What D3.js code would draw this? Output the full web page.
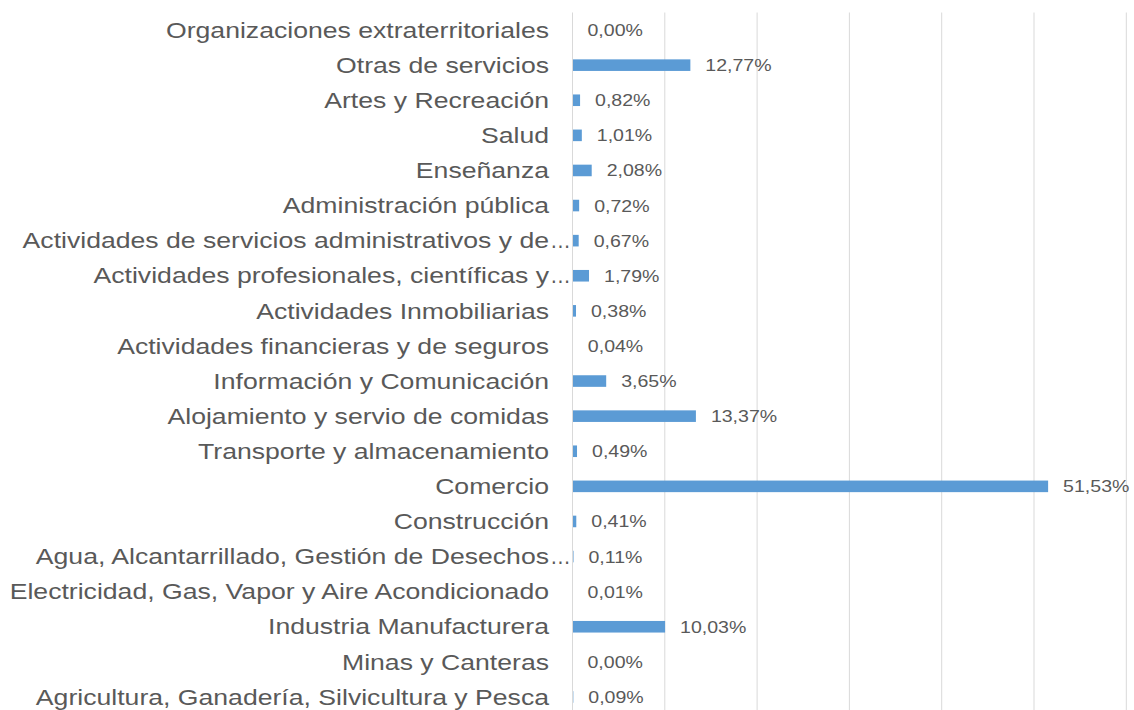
<!DOCTYPE html>
<html>
<head>
<meta charset="utf-8">
<script src="https://cdn.jsdelivr.net/npm/d3@7"></script>
<style>
  html, body { margin: 0; padding: 0; background: #fff; }
  svg { display: block; }
</style>
</head>
<body>
<div id="chart"></div>
<script>
  // === DATA (top to bottom, as shown) ===
  const categories = [
    "Organizaciones extraterritoriales",
    "Otras de servicios",
    "Artes y Recreación",
    "Salud",
    "Enseñanza",
    "Administración pública",
    "Actividades de servicios administrativos y de…",
    "Actividades profesionales, científicas y…",
    "Actividades Inmobiliarias",
    "Actividades financieras y de seguros",
    "Información y Comunicación",
    "Alojamiento y servio de comidas",
    "Transporte y almacenamiento",
    "Comercio",
    "Construcción",
    "Agua, Alcantarrillado, Gestión de Desechos…",
    "Electricidad, Gas, Vapor y Aire Acondicionado",
    "Industria Manufacturera",
    "Minas y Canteras",
    "Agricultura, Ganadería, Silvicultura y Pesca"
  ];
  const values = [
    0.00, 12.77, 0.82, 1.01, 2.08, 0.72, 0.67, 1.79, 0.38, 0.04,
    3.65, 13.37, 0.49, 51.53, 0.41, 0.11, 0.01, 10.03, 0.00, 0.09
  ];
  const xTicks = [0, 10, 20, 30, 40, 50, 60];

  (function () {
    const width = 1134, height = 710;
    const x0 = 572.5, x1 = 1126.3;   // plot area left/right
    const plotTop = 12.5, step = 35.1;
    const stretch = 1.21;            // labels in the picture are horizontally stretched

    const svg = d3.select("#chart")
      .append("svg")
        .attr("width", width)
        .attr("height", height);

    const x = d3.scaleLinear()
      .domain([0, 60])
      .range([x0, x1]);

    const y = d3.scaleBand()
      .domain(categories)
      .range([plotTop, plotTop + step * categories.length])
      .paddingInner(0.67)
      .paddingOuter(0.335);

    const locale = d3.formatLocale({ decimal: ",", thousands: ".", grouping: [3], currency: ["", ""] });
    const fmt = locale.format(".2f");

    // gridlines
    svg.append("g")
      .selectAll("line")
      .data(xTicks.slice(1))
      .join("line")
        .attr("x1", d => x(d)).attr("x2", d => x(d))
        .attr("y1", plotTop).attr("y2", height)
        .attr("stroke", "#d9d9d9")
        .attr("stroke-width", 1);

    // bars
    svg.append("g")
      .selectAll("rect")
      .data(categories)
      .join("rect")
        .attr("x", x(0))
        .attr("y", d => y(d))
        .attr("width", (d, i) => x(values[i]) - x(0))
        .attr("height", y.bandwidth())
        .attr("fill", "#5b9bd5");

    // vertical axis line
    svg.append("line")
      .attr("x1", x(0)).attr("x2", x(0))
      .attr("y1", plotTop).attr("y2", height)
      .attr("stroke", "#d9d9d9")
      .attr("stroke-width", 1);

    // category labels
    const labelX = x(0) - 23.5;
    const labels = svg.append("g")
      .attr("font-family", "'Liberation Sans', Arial, sans-serif")
      .attr("font-size", 22)
      .attr("fill", "#595959");

    categories.forEach(c => {
      const cy = y(c) + y.bandwidth() / 2;
      const cut = c.endsWith("…");
      labels.append("text")
        .attr("transform", `translate(${labelX},${cy}) scale(${stretch},1)`)
        .attr("dy", "0.35em")
        .attr("text-anchor", "end")
        .text(cut ? c.slice(0, -1) : c);
      if (cut) {
        labels.append("text")
          .attr("transform", `translate(${labelX + 1},${cy}) scale(0.95,1)`)
          .attr("dy", "0.35em")
          .text("…");
      }
    });

    // value labels
    svg.append("g")
      .attr("font-family", "'Liberation Sans', Arial, sans-serif")
      .attr("font-size", 17)
      .attr("fill", "#595959")
      .selectAll("text")
      .data(categories)
      .join("text")
        .attr("transform", (d, i) =>
          `translate(${x(values[i]) + 15},${y(d) + y.bandwidth() / 2}) scale(1.15,1)`)
        .attr("dy", "0.35em")
        .text((d, i) => fmt(values[i]) + "%");
  })();
</script>
</body>
</html>
